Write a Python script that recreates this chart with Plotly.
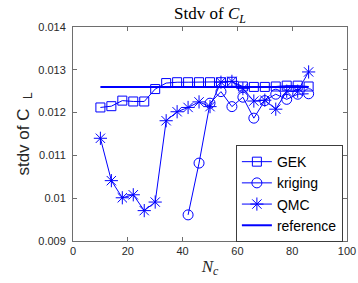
import plotly.graph_objects as go

gek_x = [10, 14, 18, 22, 26, 30, 34, 38, 42, 46, 50, 54, 58, 62, 66, 70, 74, 78, 82, 86]
gek_y = [0.01212, 0.01215, 0.01228, 0.01226, 0.01226, 0.01255, 0.01269, 0.01271, 0.01271, 0.01271,
         0.01271, 0.01271, 0.01272, 0.01261, 0.01260, 0.01260, 0.01261, 0.01263, 0.01263, 0.01261]

krig_x = [42, 46, 50, 54, 58, 62, 66, 70, 74, 78, 82, 86]
krig_y = [0.00961, 0.01082, 0.01222, 0.01249, 0.01214, 0.01236, 0.01187, 0.01228, 0.01243, 0.01231,
          0.01243, 0.01244]

qmc_x = [10, 14, 18, 22, 26, 30, 34, 38, 42, 46, 50, 54, 58, 62, 66, 70, 74, 78, 82, 86]
qmc_y = [0.01140, 0.01041, 0.01001, 0.01008, 0.00971, 0.00991, 0.01181, 0.01202, 0.01212, 0.01225,
         0.01214, 0.01271, 0.01273, 0.01256, 0.01227, 0.01229, 0.01208, 0.01250, 0.01250, 0.01295]

ref_x = [10, 86]
ref_y = [0.01260, 0.01260]

blue = "rgb(0,0,255)"
fig = go.Figure()
fig.add_trace(go.Scatter(x=gek_x, y=gek_y, name="GEK", mode="lines+markers",
                         line=dict(color=blue, width=1),
                         marker=dict(symbol="square-open", size=9, color=blue, line=dict(width=1))))
fig.add_trace(go.Scatter(x=krig_x, y=krig_y, name="kriging", mode="lines+markers",
                         line=dict(color=blue, width=1),
                         marker=dict(symbol="circle-open", size=10, color=blue, line=dict(width=1))))
fig.add_trace(go.Scatter(x=qmc_x, y=qmc_y, name="QMC", mode="lines+markers",
                         line=dict(color=blue, width=1),
                         marker=dict(symbol="asterisk-open", size=11, color=blue, line=dict(width=1, color=blue))))
fig.add_trace(go.Scatter(x=ref_x, y=ref_y, name="reference", mode="lines",
                         line=dict(color=blue, width=2)))

axis_common = dict(showline=True, linecolor="rgb(110,110,110)", linewidth=1, mirror="ticks",
                   ticks="inside", ticklen=4, tickcolor="rgb(110,110,110)", showgrid=False,
                   zeroline=False, automargin=False,
                   tickfont=dict(family="Liberation Sans", size=11, color="rgb(40,40,40)"))

fig.update_layout(
    width=358, height=283,
    margin=dict(l=73, r=11, t=27, b=42),
    paper_bgcolor="white", plot_bgcolor="white",
    title=dict(text="Stdv of <i>C</i><sub><i>L</i></sub>", xref="paper", x=0.5, xanchor="center",
               yref="container", y=0.953, yanchor="middle",
               font=dict(family="Liberation Serif", size=17, color="black")),
    xaxis=dict(range=[0, 100], tickvals=[0, 20, 40, 60, 80, 100],
               title=dict(text="<i>N</i><sub><i>c</i></sub>", standoff=3,
                          font=dict(family="Liberation Serif", size=17, color="rgb(40,40,40)")),
               **axis_common),
    yaxis=dict(range=[0.009, 0.014], tickvals=[0.009, 0.010, 0.011, 0.012, 0.013, 0.014],
               ticktext=["0.009", "0.01", "0.011", "0.012", "0.013", "0.014"],
               ticklabelstandoff=4,
               title=dict(text="stdv of C  <sub>L</sub>", standoff=4,
                          font=dict(family="Liberation Sans", size=17, color="rgb(40,40,40)")),
               **axis_common),
    legend=dict(x=0.985, y=-0.005, xanchor="right", yanchor="bottom",
                bordercolor="rgb(60,60,60)", borderwidth=1, bgcolor="white",
                font=dict(family="Liberation Sans", size=14, color="black"),
                tracegroupgap=0, itemwidth=30),
    showlegend=True,
)

fig.write_html("out.html", config={"displayModeBar": False},
               post_script="document.body.style.margin='0';")
